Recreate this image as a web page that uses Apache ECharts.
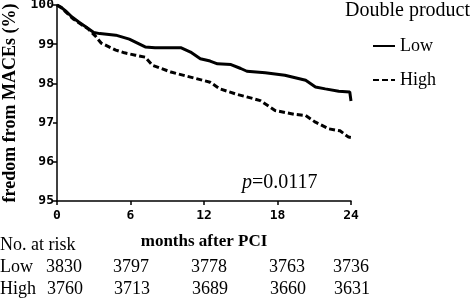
<!DOCTYPE html>
<html>
<head>
<meta charset="utf-8">
<script src="https://cdn.jsdelivr.net/npm/echarts@6/dist/echarts.min.js"></script>
<style>
  html, body { margin: 0; padding: 0; background: #fff; }
  #chart { width: 473px; height: 299px; }
</style>
</head>
<body>
<div id="chart"></div>
<script>
// survival curves
const lowMonths = [0, 0.3, 0.7, 1.2, 1.8, 2.4, 3.0, 3.5, 4.8, 5.9, 7.2, 8.0, 10.1, 10.9, 11.7, 12.5, 13.1, 14.2, 15.0, 15.5, 17.0, 18.6, 20.3, 21.1, 21.9, 23.0, 23.9, 24.0];
const lowSurv = [100, 99.95, 99.85, 99.7, 99.56, 99.43, 99.3, 99.27, 99.23, 99.13, 98.93, 98.91, 98.91, 98.8, 98.63, 98.57, 98.5, 98.48, 98.38, 98.31, 98.27, 98.21, 98.08, 97.91, 97.86, 97.8, 97.78, 97.55];
const highMonths = [0, 0.4, 0.8, 1.3, 1.9, 2.5, 3.1, 3.6, 4.8, 5.5, 6.4, 7.2, 7.8, 9.3, 10.9, 12.5, 13.3, 14.7, 15.8, 16.6, 17.8, 19.4, 20.3, 21.1, 22.2, 23.1, 23.8, 24.0];
const highSurv = [100, 99.92, 99.8, 99.65, 99.52, 99.4, 99.22, 99.03, 98.85, 98.78, 98.72, 98.67, 98.46, 98.29, 98.16, 98.03, 97.86, 97.72, 97.63, 97.56, 97.31, 97.21, 97.18, 97.01, 96.84, 96.79, 96.63, 96.62];

// number at risk table
const riskMonths = [0, 6, 12, 18, 24];
const riskLow = [3830, 3797, 3778, 3763, 3736];
const riskHigh = [3760, 3713, 3689, 3660, 3631];

const serif = 'Liberation Serif';
const mono = 'DejaVu Sans Mono';

const chart = echarts.init(document.getElementById('chart'));

const zip = (xs, ys) => xs.map((x, i) => [x, ys[i]]);

// grid edges in px
const gridLeft = 57;
const gridRight = 351;
const colX = [64, 131, 209, 287, 351]; // centres of numbers

const riskFont = '18px ' + serif;
const riskText = [];
riskText.push({ type: 'text', x: 0, y: 245, style: { text: 'No. at risk', font: riskFont, fill: '#000', verticalAlign: 'middle' } });
riskText.push({ type: 'text', x: 0, y: 267, style: { text: 'Low', font: riskFont, fill: '#000', verticalAlign: 'middle' } });
riskText.push({ type: 'text', x: 0, y: 289, style: { text: 'High', font: riskFont, fill: '#000', verticalAlign: 'middle' } });
riskMonths.forEach((m, i) => {
  riskText.push({ type: 'text', x: colX[i], y: 267, style: { text: String(riskLow[i]), font: riskFont, fill: '#000', align: 'center', verticalAlign: 'middle' } });
  riskText.push({ type: 'text', x: colX[i] + 1, y: 289, style: { text: String(riskHigh[i]), font: riskFont, fill: '#000', align: 'center', verticalAlign: 'middle' } });
});

const option = {
  animation: false,
  backgroundColor: '#fff',
  grid: {
    left: gridLeft,
    right: 473 - gridRight,
    top: 5,
    bottom: 98,
    outerBoundsMode: 'none',
    containLabel: false,
  },
  legend: {
    orient: 'vertical',
    left: 367,
    top: 32,
    itemWidth: 22,
    itemHeight: 14,
    itemGap: 16,
    itemStyle: { opacity: 0 },
    textStyle: { fontFamily: serif, fontSize: 18, color: '#000' },
    data: ['Low', 'High'],
  },
  xAxis: {
    type: 'value',
    min: 0,
    max: 24,
    interval: 6,
    name: 'months after PCI',
    nameLocation: 'middle',
    nameGap: 32,
    nameTextStyle: { fontFamily: serif, fontWeight: 'bold', fontSize: 17, color: '#000' },
    axisLine: { lineStyle: { color: '#000', width: 1.5 } },
    axisTick: { show: true, length: 4, lineStyle: { color: '#000', width: 1.5 } },
    axisLabel: { fontFamily: mono, fontWeight: 'bold', fontSize: 13, color: '#000', margin: 8 },
    splitLine: { show: false },
  },
  yAxis: {
    type: 'value',
    min: 95,
    max: 100,
    interval: 1,
    name: 'fredom from MACEs (%)',
    nameLocation: 'middle',
    nameGap: 36,
    nameTextStyle: { fontFamily: serif, fontWeight: 'bold', fontSize: 18, color: '#000' },
    axisLine: { lineStyle: { color: '#000', width: 1.5 } },
    axisTick: { show: true, length: 4, lineStyle: { color: '#000', width: 1.5 } },
    axisLabel: { fontFamily: mono, fontWeight: 'bold', fontSize: 13, color: '#000', margin: 3 },
    splitLine: { show: false },
  },
  graphic: [
    { type: 'text', x: 345, y: 11, style: { text: 'Double product', font: '20px ' + serif, fill: '#000', verticalAlign: 'middle' } },
    {
      type: 'text', x: 242, y: 183,
      style: {
        text: '{i|p}=0.0117', font: '20px ' + serif, fill: '#000', verticalAlign: 'middle',
        rich: { i: { fontFamily: serif, fontStyle: 'italic', fontSize: 20 } },
      },
    },
  ].concat(riskText),
  series: [
    {
      name: 'Low',
      type: 'line',
      data: zip(lowMonths, lowSurv),
      symbol: 'none',
      lineStyle: { color: '#000', width: 3 },
      itemStyle: { color: '#000' },
    },
    {
      name: 'High',
      type: 'line',
      data: zip(highMonths, highSurv),
      symbol: 'none',
      lineStyle: { color: '#000', width: 3, type: [6, 3] },
      itemStyle: { color: '#000' },
    },
  ],
};

chart.setOption(option);
</script>
</body>
</html>
